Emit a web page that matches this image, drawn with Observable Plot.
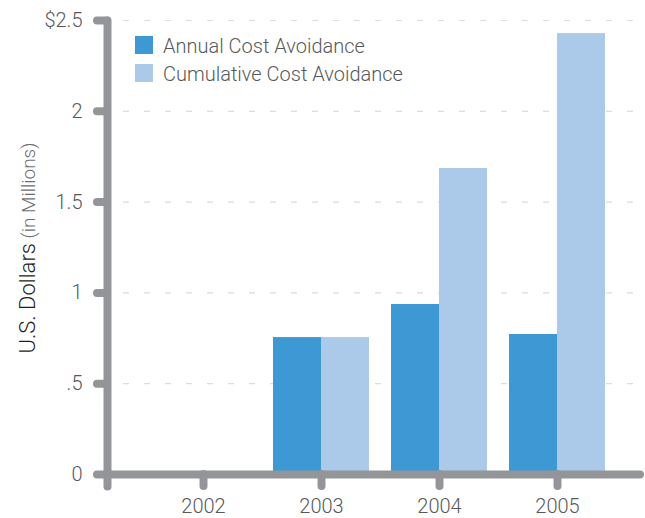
<!DOCTYPE html>
<html>
<head>
<meta charset="utf-8">
<script src="https://cdn.jsdelivr.net/npm/d3@7"></script>
<script src="https://cdn.jsdelivr.net/npm/@observablehq/plot@0.6"></script>
<style>
  html, body { margin: 0; padding: 0; background: #fff; }
  #chart { width: 645px; height: 518px; }
</style>
</head>
<body>
<div id="chart"></div>
<script>
// ---- data ----
const years = ["2002", "2003", "2004", "2005"];
const annual = [0, 0.754, 0.936, 0.771];
const cumulative = [0, 0.754, 1.685, 2.428];
const seriesNames = ["Annual Cost Avoidance", "Cumulative Cost Avoidance"];
const seriesColors = ["#3d98d4", "#abc9e8"];
const yTicks = [0, 0.5, 1, 1.5, 2, 2.5];
const yTickLabels = ["0", ".5", "1", "1.5", "2", "$2.5"];
const yTitle = "U.S. Dollars";
const yTitleSub = "(in Millions)";

// ---- build ----
const data = years.map((y, i) => ({year: y, annual: annual[i], cumulative: cumulative[i]}));
const axisGray = "#939598";
const textGray = "#58595b";

const chart = Plot.plot({
  width: 645,
  height: 518,
  marginLeft: 107,
  marginRight: 5,
  marginTop: 20,
  marginBottom: 44,
  style: {fontFamily: "Roboto, 'Open Sans', sans-serif", fontSize: "20px", fontWeight: 300, color: textGray, background: "white"},
  x: {type: "band", domain: years, range: [154, 606], paddingInner: 0.19, paddingOuter: 0, label: null},
  y: {domain: [0, 2.5], label: null},
  marks: [
    Plot.ruleY(yTicks.filter(v => v > 0), {stroke: "#dcdcdc", strokeWidth: 1.2, strokeDasharray: "6,15", insetLeft: 16}),
    Plot.barY(data, {x: "year", y: "annual", fill: seriesColors[0], insetRight: 48}),
    Plot.barY(data, {x: "year", y: "cumulative", fill: seriesColors[1], insetLeft: 48}),
    Plot.ruleY([0], {stroke: axisGray, strokeWidth: 8, strokeLinecap: "round"}),
    Plot.frame({anchor: "left", stroke: axisGray, strokeWidth: 8, strokeLinecap: "round", insetBottom: -12}),
    Plot.axisY({ticks: yTicks, tickFormat: d => yTickLabels[yTicks.indexOf(d)], tickSize: 10, tickPadding: 15,
      stroke: axisGray, strokeWidth: 8, strokeLinecap: "round", label: null}),
    Plot.axisX({tickSize: 12, tickPadding: 12, stroke: axisGray, strokeWidth: 8, strokeLinecap: "round", label: null})
  ]
});

const svg = d3.select(chart);
// legend
const lg = svg.append("g").attr("font-family", "Roboto, sans-serif").attr("font-weight", 300)
  .attr("font-size", 20).attr("fill", textGray).attr("text-anchor", "start");
seriesNames.forEach((name, i) => {
  lg.append("rect").attr("x", 135).attr("y", 36 + i * 28).attr("width", 18).attr("height", 18).attr("fill", seriesColors[i]);
  lg.append("text").attr("x", 163).attr("y", 53 + i * 28).text(name);
});
// y title
const yt = svg.append("text").attr("transform", "translate(35,248) rotate(-90)").attr("text-anchor", "middle")
  .attr("font-family", "Roboto, sans-serif");
yt.append("tspan").attr("font-size", 22).attr("font-weight", 300).attr("fill", "#231f20").text(yTitle);
yt.append("tspan").attr("font-size", 19).attr("font-weight", 300).attr("fill", "#6d6e71").text(" " + yTitleSub);

document.getElementById("chart").appendChild(chart);
</script>
</body>
</html>
